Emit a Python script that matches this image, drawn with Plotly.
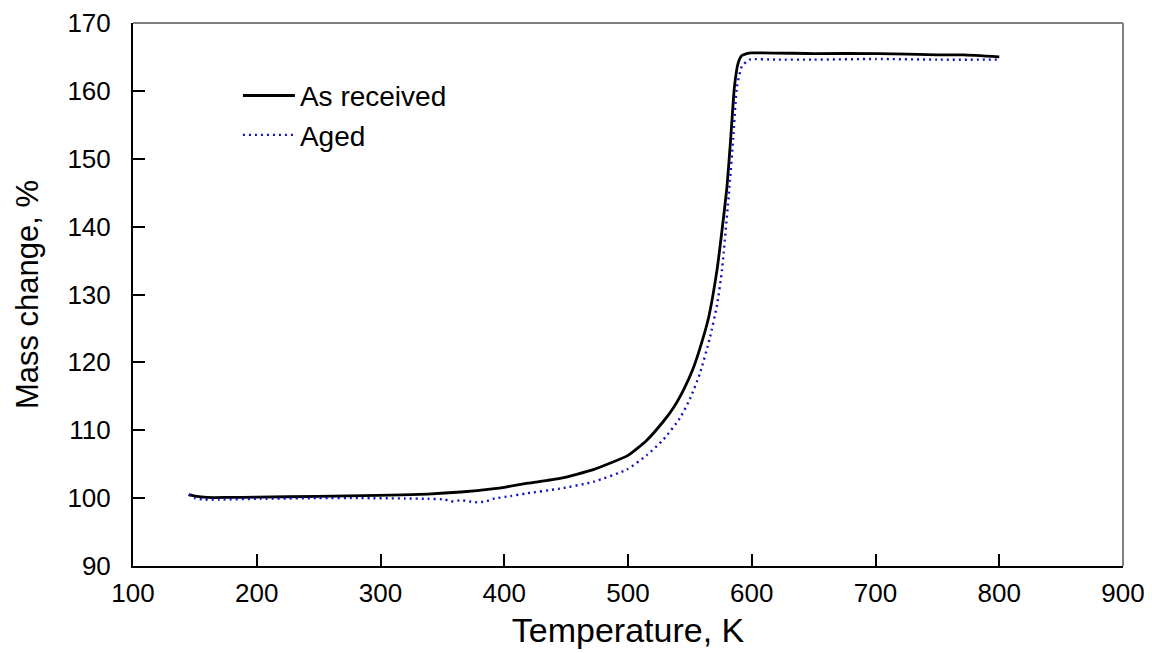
import plotly.graph_objects as go

# As received (black solid)
t_received = [145, 150, 160, 177, 200, 250, 298, 338, 365, 392, 400, 419, 445, 472,
              500, 515, 529, 537, 545, 552, 558, 565, 572, 576, 580, 583, 586, 589,
              592, 596, 600, 650, 703, 750, 771, 800]
m_received = [100.5, 100.3, 100.1, 100.1, 100.15, 100.25, 100.4, 100.6, 100.9, 101.4,
              101.6, 102.2, 102.9, 104.2, 106.3, 108.5, 111.4, 113.4, 116.0, 118.8,
              122.0, 126.5, 133.7, 139.5, 145.9, 153.0, 160.6, 164.1, 165.2, 165.5,
              165.6, 165.5, 165.5, 165.3, 165.3, 165.0]

# Aged (blue dotted)
t_aged = [145, 150, 158, 170, 203, 250, 284, 320, 338, 352, 357, 365, 372, 378, 385,
          391, 405, 418, 445, 472, 499, 515, 529, 542, 550, 558, 566, 572, 576, 582,
          585, 588, 592, 598, 620, 650, 700, 750, 800]
m_aged = [100.5, 100.0, 99.8, 99.8, 99.9, 100.0, 100.0, 99.95, 99.9, 99.8, 99.5, 99.7,
          99.5, 99.4, 99.5, 99.9, 100.3, 100.7, 101.4, 102.4, 104.2, 106.3, 108.7,
          111.8, 114.6, 118.3, 123.5, 128.5, 133.7, 145.9, 153.0, 160.6, 163.6, 164.6,
          164.6, 164.6, 164.7, 164.6, 164.6]

x_ticks = [100, 200, 300, 400, 500, 600, 700, 800, 900]
y_ticks = [90, 100, 110, 120, 130, 140, 150, 160, 170]

FONT = "Liberation Sans, Arial, sans-serif"

fig = go.Figure()
fig.add_trace(go.Scatter(x=t_received, y=m_received, mode="lines", name="As received",
                         line=dict(color="black", width=2.8, shape="spline", smoothing=0.5)))
fig.add_trace(go.Scatter(x=t_aged, y=m_aged, mode="lines", name="Aged",
                         line=dict(color="#1010c8", width=2.4, dash="2px,4px",
                                   shape="spline", smoothing=0.5)))

fig.update_layout(
    width=1144, height=645,
    margin=dict(l=125, r=29, t=15, b=87),
    paper_bgcolor="white", plot_bgcolor="white",
    font=dict(family=FONT, color="black", size=26),
    showlegend=True,
    legend=dict(x=0.106, y=0.912, xanchor="left", yanchor="top",
                bgcolor="rgba(0,0,0,0)", font=dict(size=28, family=FONT),
                itemwidth=52, tracegroupgap=0),
    xaxis=dict(range=[100, 900], tickvals=x_ticks, ticks="inside", ticklen=12,
               tickwidth=1.5, tickcolor="black", showgrid=False, zeroline=False,
               showline=True, linecolor="black", linewidth=2, mirror=False,
               automargin=False,
               tickfont=dict(size=26, family=FONT), ticklabelstandoff=3,
               title=dict(text="Temperature, K", font=dict(size=34, family=FONT),
                          standoff=11)),
    yaxis=dict(range=[90, 170], tickvals=y_ticks, ticks="inside", ticklen=12,
               tickwidth=1.5, tickcolor="black", showgrid=False, zeroline=False,
               showline=True, linecolor="black", linewidth=2, mirror=False,
               automargin=False,
               tickfont=dict(size=26, family=FONT), ticklabelstandoff=15,
               title=dict(text="Mass change, %", font=dict(size=31, family=FONT),
                          standoff=20)),
    shapes=[
        dict(type="line", xref="paper", yref="paper", x0=0, x1=1, y0=1, y1=1,
             line=dict(color="#808080", width=2)),
        dict(type="line", xref="paper", yref="paper", x0=1, x1=1, y0=0, y1=1,
             line=dict(color="#808080", width=2)),
    ],
)

fig.write_html("out.html")
